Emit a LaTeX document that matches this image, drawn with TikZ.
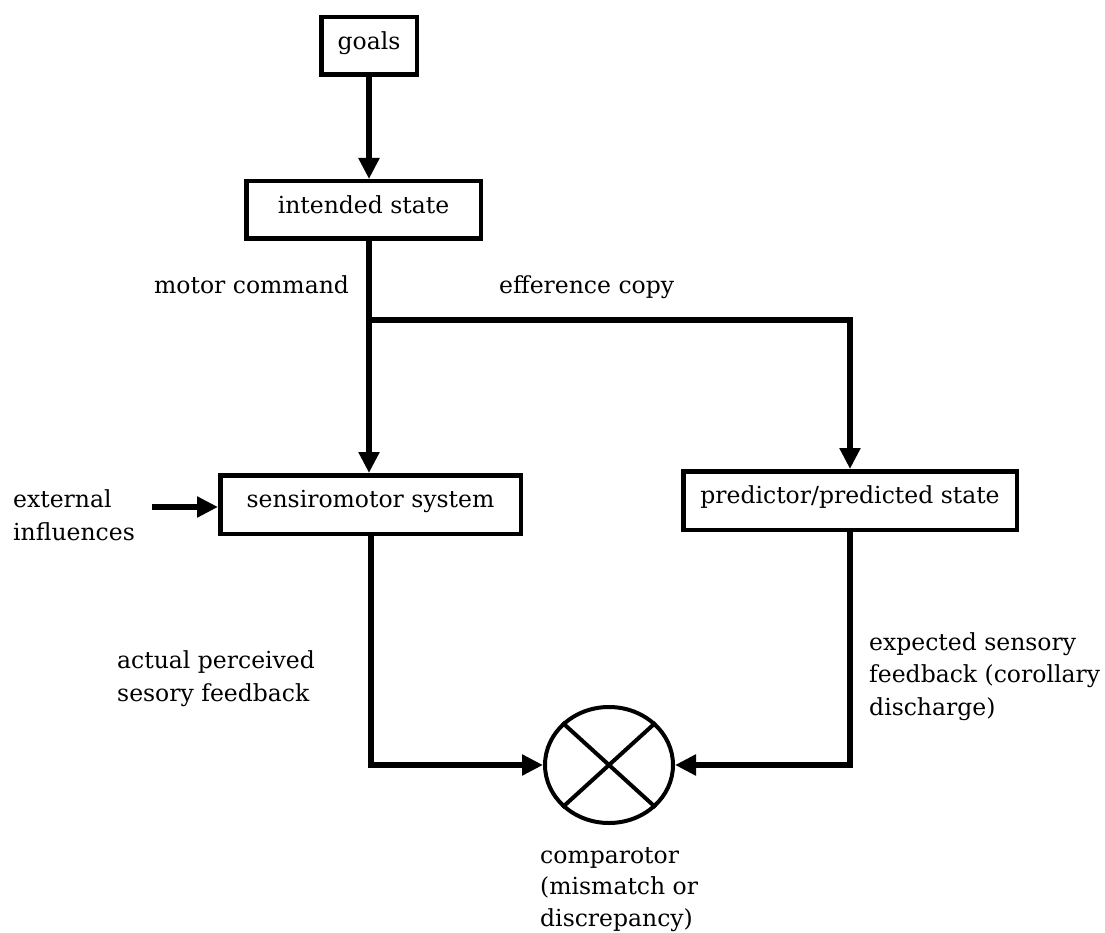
\documentclass[tikz,border=0pt]{standalone}
\usepackage{fontspec}
\setmainfont{DejaVu Serif}
\usetikzlibrary{arrows.meta,shapes.geometric}
\begin{document}
\begin{tikzpicture}[x=1pt,y=-1pt,
  every node/.style={font=\fontsize{23.5}{32.5}\selectfont},
  box/.style={draw,line width=4.5pt,rectangle,inner sep=0pt,text height=0.8em,text depth=0.15em},
  conn/.style={line width=6pt,-{Triangle[length=21pt,width=20pt]}},
  plain/.style={line width=6pt},
  lbl/.style={anchor=base west,align=left,inner sep=0pt}]
\useasboundingbox[fill=white] (0,0) rectangle (1105,933);
% boxes
\node[box,minimum width=95.5pt,minimum height=57.5pt] (goals) at (369,46) {goals};
\node[box,minimum width=234.5pt,minimum height=57.5pt] (intended) at (363.5,210) {intended state};
\node[box,minimum width=300.5pt,minimum height=58.5pt] (sensi) at (370.5,504.5) {sensiromotor system};
\node[box,minimum width=333.5pt,minimum height=58.5pt] (pred) at (850,500.5) {predictor/predicted state};
\node[draw,ellipse,line width=4pt,minimum width=128pt,minimum height=116pt,inner sep=0pt] (comp) at (609,765) {};
% labels (multi-line nodes: base anchor sits below the last line)
\node[lbl] (ext) at (13,540) {external\\influences};
\node[lbl] (motor) at (154,294) {motor command};
\node[lbl] (eff) at (499,293) {efference copy};
\node[lbl] (act) at (117,701) {actual perceived\\sesory feedback};
\node[lbl] (exp) at (869,715) {expected sensory\\feedback (corollary\\discharge)};
\node[lbl,font=\fontsize{23.5}{31.5}\selectfont] (cmp) at (540,926) {comparotor\\(mismatch or\\discrepancy)};
% coordinates
\coordinate (br) at (369,320);
\coordinate (extstart) at (152,507);
% connectors
\draw[conn] (goals.south) -- (goals.south |- intended.north);
\draw[plain] (intended.south -| br) -- (br);
\draw[conn] (br) -- (sensi.north -| br);
\draw[conn] (br) -| (pred.north);
\draw[conn] (extstart) -- (sensi.west |- extstart);
\draw[conn] (sensi.south) |- (comp.west);
\draw[conn] (pred.south) |- (comp.east);
% cross in comparator
\draw[line width=4pt] (comp.north east) -- (comp.south west);
\draw[line width=4pt] (comp.north west) -- (comp.south east);
\end{tikzpicture}
\end{document}
